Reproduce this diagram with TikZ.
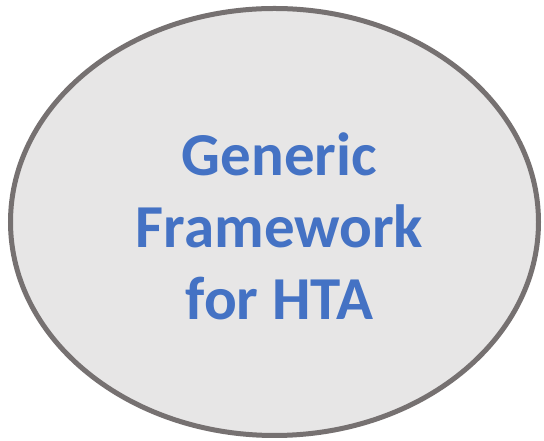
\documentclass[tikz,border=0pt]{standalone}
\usepackage{fontspec}
\setmainfont{Carlito}
\usepackage{xcolor}
\usepackage{tikz}
\usetikzlibrary{shapes.geometric}

\definecolor{framefill}{HTML}{E7E6E6}
\definecolor{frameline}{HTML}{767171}
\definecolor{frametext}{HTML}{4472C4}

\begin{document}
\begin{tikzpicture}[
    x=1pt, y=1pt,
    % styles
    outline/.style={ellipse, draw=frameline, line width=5pt, fill=framefill,
      minimum width=528pt, minimum height=427pt, inner sep=0pt},
    caption/.style={text=frametext, font=\bfseries\fontsize{61}{72}\selectfont,
      align=center, inner sep=0pt}]

    % page
    \useasboundingbox (0, 0) rectangle (544, 441);

    % ellipse
    \node [outline] (frame) at (274.5, 219) {};

    % text
    \node [caption] (title) at (279.5, 214.5) {Generic\\Framework\\for HTA};

  \end{tikzpicture}
\end{document}
